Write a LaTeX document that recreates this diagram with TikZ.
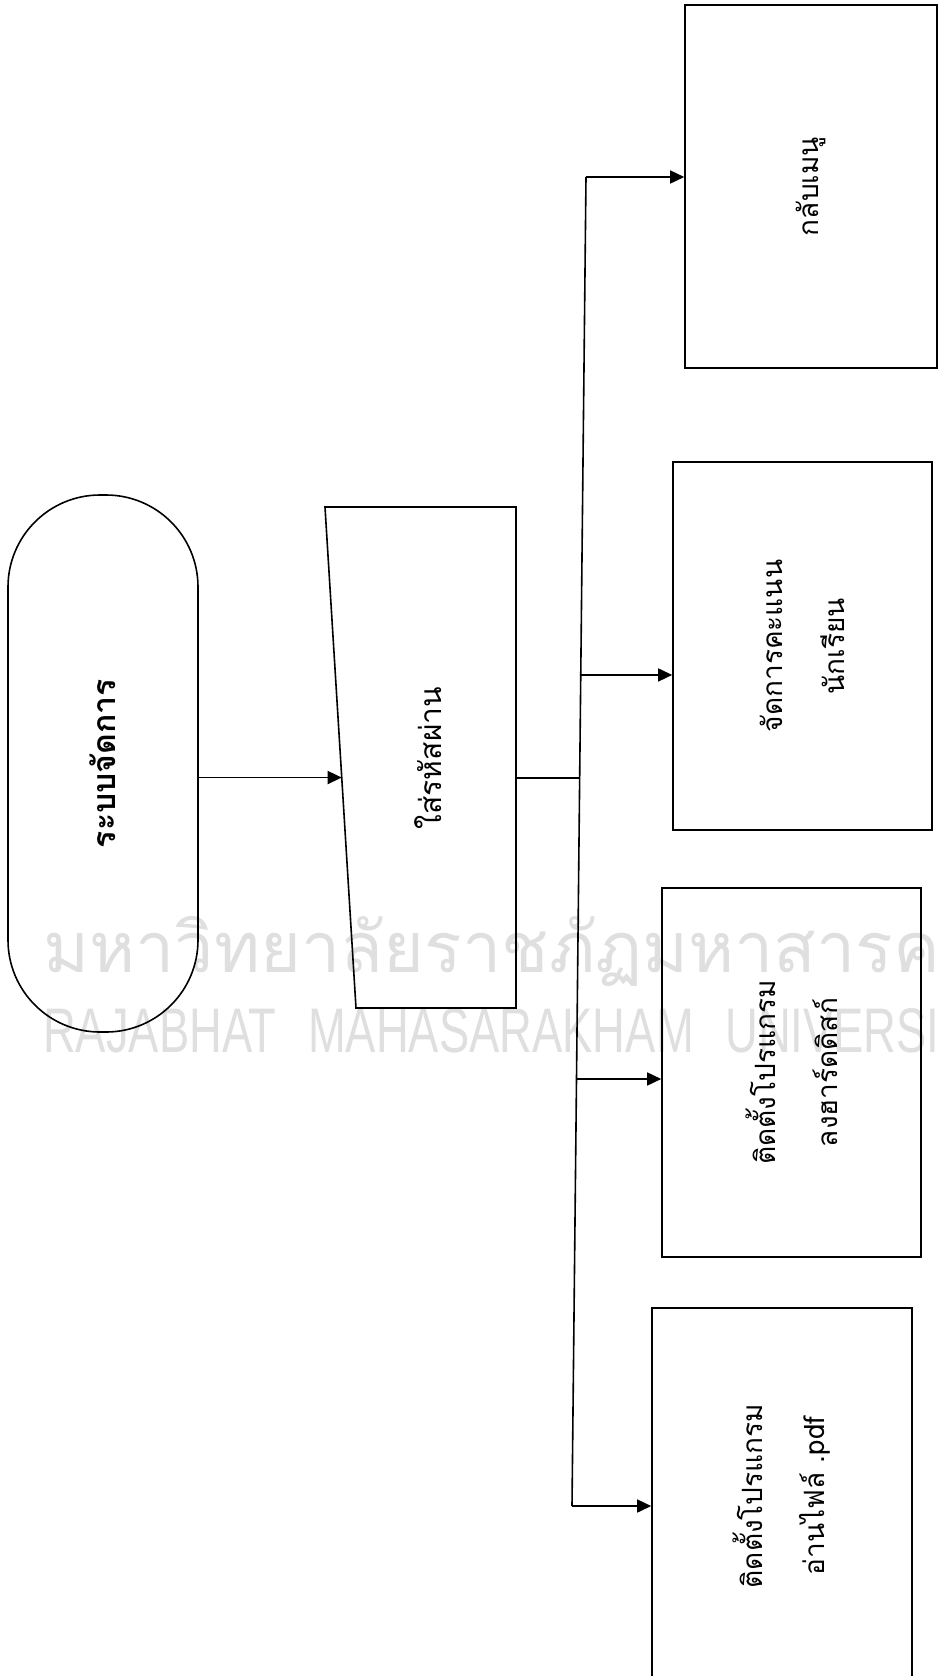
\documentclass[tikz,border=0pt]{standalone}
\usepackage{fontspec}
\newfontfamily\thaifont[Script=Thai]{Loma}
\newfontfamily\wmfont[WordSpace=2.5]{Liberation Sans}
\usetikzlibrary{arrows.meta,calc}

\tikzset{
  chart/.style={draw, line width=1.6pt},
  thtext/.style={font=\thaifont\fontsize{28}{62}\selectfont},
  menubox/.style={chart, thtext, rectangle, rotate=90, align=center},
  arr/.style={line width=1.6pt, -{Triangle[length=14pt,width=13pt]}},
  wmark/.style={text=gray!25, inner sep=0pt, anchor=base west}
}

\begin{document}
\begin{tikzpicture}[x=1pt, y=-1pt]
  \useasboundingbox (0,0) rectangle (938,1676);

  % watermark
  \begin{scope}
    \clip (0,0) rectangle (938,1676);
    \node[wmark, font=\thaifont\fontsize{70}{70}\selectfont] (wmth) at (43,972) {มหาวิทยาลัยราชภัฏมหาสารคาม};
    \node[wmark, xscale=0.72, font=\wmfont\fontsize{63}{63}\selectfont] (wmen) at (43,1052) {RAJABHAT MAHASARAKHAM UNIVERSITY};
  \end{scope}

  % start
  \node[chart, rounded corners=92pt, rotate=90, minimum width=537pt, minimum height=190pt,
        font=\thaifont\bfseries\fontsize{32}{40}\selectfont] (start) at (103,763.5) {ระบบจัดการ};

  % password input
  \coordinate (pTL) at (325,507);
  \coordinate (pTR) at (516,507);
  \coordinate (pBR) at (516,1008);
  \coordinate (pBL) at (356,1008);
  \draw[chart] (pTL) -- (pTR) -- (pBR) -- (pBL) -- cycle;
  \node[thtext, rotate=90, font=\thaifont\fontsize{30}{40}\selectfont] (pass) at (428,758) {ใส่รหัสผ่าน};

  % menu
  \node[menubox, minimum width=363pt, minimum height=252pt] (back) at (811,186.5) {กลับเมนู};
  \node[menubox, minimum width=368pt, minimum height=259pt] (score) at (802.5,646) {จัดการคะแนน\\นักเรียน};
  \node[menubox, minimum width=369pt, minimum height=259pt] (hdd) at (791.5,1072.5) {ติดตั้งโปรแกรม\\ลงฮาร์ดดิสก์};
  \node[menubox, minimum width=376pt, minimum height=260pt] (pdf) at (782,1496) {ติดตั้งโปรแกรม\\อ่านไฟล์ .pdf};

  % connectors
  \coordinate (sTop) at (586,177);
  \coordinate (sBot) at (572,1506);
  \coordinate (sScore) at ($(sTop)!0.3747!(sBot)$);
  \coordinate (sJoin) at ($(sTop)!0.4522!(sBot)$);
  \coordinate (sHdd) at ($(sTop)!0.6787!(sBot)$);
  \coordinate (pIn) at ($(pTL)!0.54!(pBL)$);

  \draw[arr] (start.south |- pIn) -- (pIn);
  \draw[chart] (sJoin -| pTR) -- (sJoin);
  \draw[chart] (sTop) -- (sBot);
  \draw[arr] (sTop) -- (sTop -| back.north);
  \draw[arr] (sScore) -- (sScore -| score.north);
  \draw[arr] (sHdd) -- (sHdd -| hdd.north);
  \draw[arr] (sBot) -- (sBot -| pdf.north);
\end{tikzpicture}
\end{document}
